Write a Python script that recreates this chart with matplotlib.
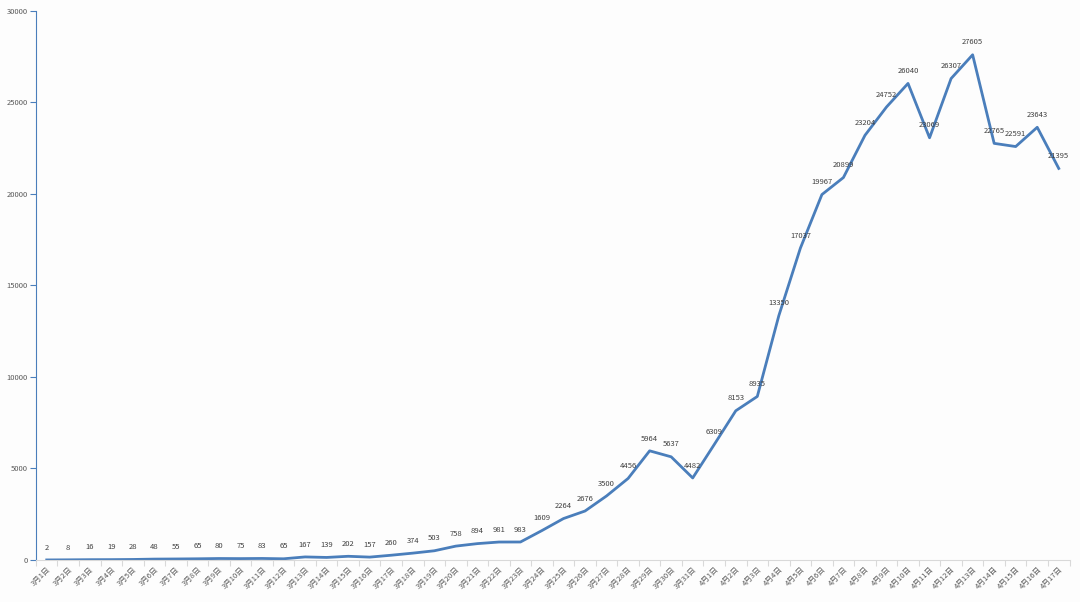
import matplotlib
matplotlib.use("Agg")
import matplotlib.pyplot as plt
import numpy as np

plt.rcParams['font.family'] = ['Noto Sans CJK SC', 'DejaVu Sans']

# daily values, 3月1日 .. 4月17日
dates = [f"3月{d}日" for d in range(1, 32)] + [f"4月{d}日" for d in range(1, 18)]
values = [2, 8, 16, 19, 28, 48, 55, 65, 80, 75, 83, 65, 167, 139, 202, 157,
          260, 374, 503, 758, 894, 981, 983, 1609, 2264, 2676, 3500, 4456,
          5964, 5637, 4482, 6309, 8153, 8935, 13350, 17037, 19967, 20899,
          23204, 24752, 26040, 23069, 26307, 27605, 22765, 22591, 23643, 21395]
y_ticks = [0, 5000, 10000, 15000, 20000, 25000, 30000]

line_col = '#4a7ebb'
bg = '#fdfdfd'

fig = plt.figure(figsize=(10.8, 6.02), dpi=100, facecolor=bg)
ax = fig.add_axes([0.0333, 0.0698, 0.957, 0.912], facecolor=bg)

x = np.arange(len(values))
ax.plot(x, values, color=line_col, lw=2.0, solid_joinstyle='round')

for xi, v in zip(x, values):
    ax.annotate(str(v), (xi, v), xytext=(0, 6), textcoords='offset points',
                ha='center', va='bottom', fontsize=5.5, color='#404040')

ax.set_xlim(-0.5, len(values) - 0.5)
ax.set_ylim(0, 30000)
ax.set_yticks(y_ticks)
ax.set_yticklabels([str(t) for t in y_ticks], fontsize=5.5, color='#595959')

ax.set_xticks(x)
ax.set_xticklabels(dates, rotation=45, ha='right', rotation_mode='anchor',
                   fontsize=5.5, color='#595959')
ax.set_xticks(np.arange(-0.5, len(values), 1), minor=True)
ax.tick_params(axis='x', which='major', length=0, pad=4)
ax.tick_params(axis='x', which='minor', length=4, color='#d9d9d9', width=0.8)
ax.tick_params(axis='y', length=4, color=line_col, width=0.8, pad=2)

for s in ['top', 'right']:
    ax.spines[s].set_visible(False)
ax.spines['left'].set_color(line_col)
ax.spines['left'].set_linewidth(0.8)
ax.spines['bottom'].set_color('#d9d9d9')
ax.spines['bottom'].set_linewidth(0.8)

fig.savefig('out.png', dpi=100, facecolor=bg)
